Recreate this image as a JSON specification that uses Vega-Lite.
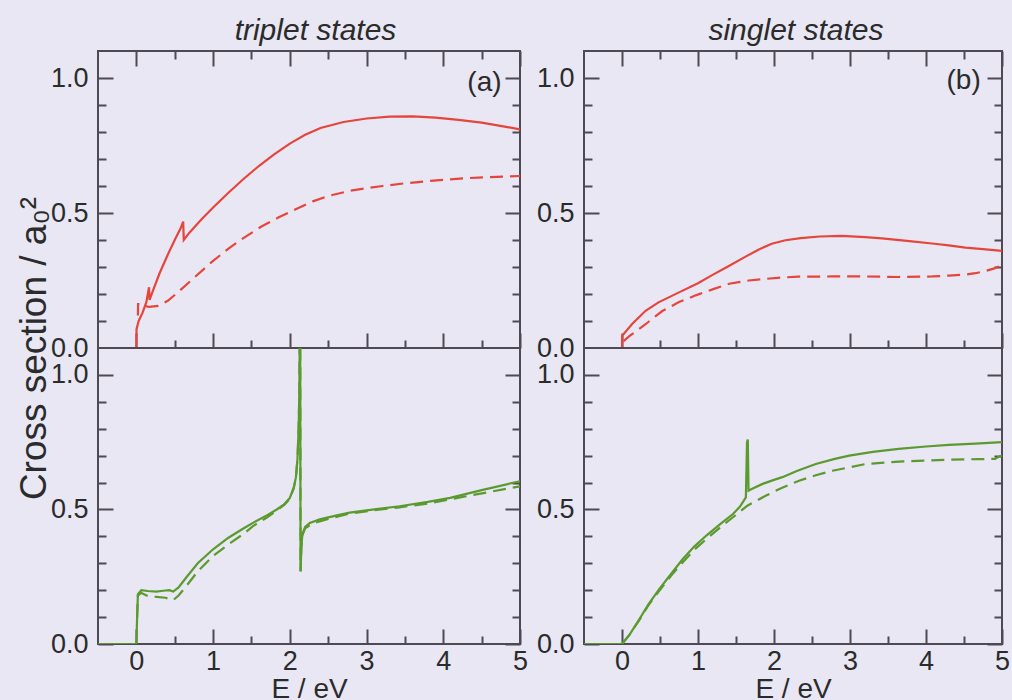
{
  "$schema": "https://vega.github.io/schema/vega-lite/v6.json",
  "background": "#e8e7f3",
  "padding": {"left": 14, "top": 16, "right": 4, "bottom": 0},
  "config": {
    "view": {"stroke": "#4e4953", "strokeWidth": 2, "fill": "#e8e7f3"},
    "font": "Liberation Sans",
    "axis": {"labelFont": "Liberation Sans", "labelFontSize": 27, "labelColor": "#2b2b2b", "titleFont": "Liberation Sans", "titleFontSize": 28, "titleFontWeight": "normal", "titleColor": "#2b2b2b", "domain": false, "grid": false, "tickColor": "#4e4953", "tickWidth": 2, "labelFlush": false, "labelOverlap": false},
    "title": {"font": "Liberation Sans", "fontSize": 30, "fontStyle": "italic", "fontWeight": "normal", "color": "#2b2b2b", "offset": 3, "anchor": "middle"}
  },
  "datasets": {
    "tl": [
      {"E":-0.5,"sigma":0,"calc":"A"},{"E":0,"sigma":0,"calc":"A"},{"E":0.002,"sigma":0.07,"calc":"A"},{"E":0.03,"sigma":0.1,"calc":"A"},{"E":0.08,"sigma":0.13,"calc":"A"},{"E":0.13,"sigma":0.17,"calc":"A"},{"E":0.165,"sigma":0.225,"calc":"A"},{"E":0.172,"sigma":0.178,"calc":"A"},{"E":0.22,"sigma":0.215,"calc":"A"},{"E":0.3,"sigma":0.275,"calc":"A"},{"E":0.4,"sigma":0.34,"calc":"A"},{"E":0.5,"sigma":0.4,"calc":"A"},{"E":0.58,"sigma":0.445,"calc":"A"},{"E":0.61,"sigma":0.468,"calc":"A"},{"E":0.618,"sigma":0.4,"calc":"A"},{"E":0.7,"sigma":0.43,"calc":"A"},{"E":0.85,"sigma":0.477,"calc":"A"},{"E":1.0,"sigma":0.52,"calc":"A"},{"E":1.2,"sigma":0.575,"calc":"A"},{"E":1.4,"sigma":0.627,"calc":"A"},{"E":1.6,"sigma":0.675,"calc":"A"},{"E":1.8,"sigma":0.718,"calc":"A"},{"E":2.0,"sigma":0.757,"calc":"A"},{"E":2.2,"sigma":0.79,"calc":"A"},{"E":2.4,"sigma":0.815,"calc":"A"},{"E":2.7,"sigma":0.837,"calc":"A"},{"E":3.0,"sigma":0.85,"calc":"A"},{"E":3.3,"sigma":0.857,"calc":"A"},{"E":3.6,"sigma":0.858,"calc":"A"},{"E":3.9,"sigma":0.853,"calc":"A"},{"E":4.2,"sigma":0.845,"calc":"A"},{"E":4.5,"sigma":0.835,"calc":"A"},{"E":4.8,"sigma":0.82,"calc":"A"},{"E":5.0,"sigma":0.81,"calc":"A"},
      {"E":0.02,"sigma":0.12,"calc":"B"},{"E":0.022,"sigma":0.163,"calc":"B"},{"E":0.09,"sigma":0.163,"calc":"B"},{"E":0.12,"sigma":0.155,"calc":"B"},{"E":0.17,"sigma":0.152,"calc":"B"},{"E":0.28,"sigma":0.156,"calc":"B"},{"E":0.41,"sigma":0.175,"calc":"B"},{"E":0.54,"sigma":0.206,"calc":"B"},{"E":0.76,"sigma":0.262,"calc":"B"},{"E":0.98,"sigma":0.318,"calc":"B"},{"E":1.2,"sigma":0.368,"calc":"B"},{"E":1.41,"sigma":0.41,"calc":"B"},{"E":1.63,"sigma":0.45,"calc":"B"},{"E":1.85,"sigma":0.483,"calc":"B"},{"E":2.07,"sigma":0.513,"calc":"B"},{"E":2.3,"sigma":0.543,"calc":"B"},{"E":2.5,"sigma":0.563,"calc":"B"},{"E":2.78,"sigma":0.582,"calc":"B"},{"E":3.0,"sigma":0.592,"calc":"B"},{"E":3.21,"sigma":0.6,"calc":"B"},{"E":3.5,"sigma":0.61,"calc":"B"},{"E":3.87,"sigma":0.62,"calc":"B"},{"E":4.3,"sigma":0.629,"calc":"B"},{"E":4.7,"sigma":0.634,"calc":"B"},{"E":5.0,"sigma":0.637,"calc":"B"}
    ],
    "tr": [
      {"E":-0.5,"sigma":0,"calc":"A"},{"E":0,"sigma":0,"calc":"A"},{"E":0.002,"sigma":0.045,"calc":"A"},{"E":0.13,"sigma":0.088,"calc":"A"},{"E":0.31,"sigma":0.138,"calc":"A"},{"E":0.48,"sigma":0.169,"calc":"A"},{"E":0.75,"sigma":0.206,"calc":"A"},{"E":1.0,"sigma":0.24,"calc":"A"},{"E":1.18,"sigma":0.269,"calc":"A"},{"E":1.4,"sigma":0.303,"calc":"A"},{"E":1.62,"sigma":0.3375,"calc":"A"},{"E":1.8,"sigma":0.365,"calc":"A"},{"E":1.97,"sigma":0.386,"calc":"A"},{"E":2.15,"sigma":0.399,"calc":"A"},{"E":2.35,"sigma":0.407,"calc":"A"},{"E":2.6,"sigma":0.413,"calc":"A"},{"E":2.89,"sigma":0.415,"calc":"A"},{"E":3.2,"sigma":0.411,"calc":"A"},{"E":3.42,"sigma":0.406,"calc":"A"},{"E":3.75,"sigma":0.397,"calc":"A"},{"E":4.08,"sigma":0.387,"calc":"A"},{"E":4.3,"sigma":0.38,"calc":"A"},{"E":4.52,"sigma":0.372,"calc":"A"},{"E":4.75,"sigma":0.366,"calc":"A"},{"E":5.0,"sigma":0.36,"calc":"A"},
      {"E":0.02,"sigma":0.025,"calc":"B"},{"E":0.1,"sigma":0.045,"calc":"B"},{"E":0.2,"sigma":0.065,"calc":"B"},{"E":0.31,"sigma":0.088,"calc":"B"},{"E":0.42,"sigma":0.113,"calc":"B"},{"E":0.53,"sigma":0.137,"calc":"B"},{"E":0.75,"sigma":0.17,"calc":"B"},{"E":0.97,"sigma":0.195,"calc":"B"},{"E":1.2,"sigma":0.218,"calc":"B"},{"E":1.41,"sigma":0.238,"calc":"B"},{"E":1.67,"sigma":0.25,"calc":"B"},{"E":1.89,"sigma":0.256,"calc":"B"},{"E":2.1,"sigma":0.261,"calc":"B"},{"E":2.32,"sigma":0.264,"calc":"B"},{"E":2.76,"sigma":0.265,"calc":"B"},{"E":3.2,"sigma":0.265,"calc":"B"},{"E":3.64,"sigma":0.263,"calc":"B"},{"E":4.08,"sigma":0.265,"calc":"B"},{"E":4.3,"sigma":0.268,"calc":"B"},{"E":4.52,"sigma":0.272,"calc":"B"},{"E":4.65,"sigma":0.277,"calc":"B"},{"E":4.78,"sigma":0.285,"calc":"B"},{"E":4.9,"sigma":0.295,"calc":"B"},{"E":5.0,"sigma":0.306,"calc":"B"}
    ],
    "bl": [
      {"E":-0.5,"sigma":0,"calc":"A"},{"E":0,"sigma":0,"calc":"A"},{"E":0.01,"sigma":0.1,"calc":"A"},{"E":0.02,"sigma":0.185,"calc":"A"},{"E":0.065,"sigma":0.2,"calc":"A"},{"E":0.15,"sigma":0.197,"calc":"A"},{"E":0.26,"sigma":0.195,"calc":"A"},{"E":0.35,"sigma":0.198,"calc":"A"},{"E":0.43,"sigma":0.2,"calc":"A"},{"E":0.48,"sigma":0.195,"calc":"A"},{"E":0.55,"sigma":0.21,"calc":"A"},{"E":0.65,"sigma":0.247,"calc":"A"},{"E":0.8,"sigma":0.3,"calc":"A"},{"E":1.0,"sigma":0.352,"calc":"A"},{"E":1.2,"sigma":0.395,"calc":"A"},{"E":1.4,"sigma":0.43,"calc":"A"},{"E":1.52,"sigma":0.45,"calc":"A"},{"E":1.7,"sigma":0.478,"calc":"A"},{"E":1.83,"sigma":0.5,"calc":"A"},{"E":1.93,"sigma":0.52,"calc":"A"},{"E":2.0,"sigma":0.543,"calc":"A"},{"E":2.05,"sigma":0.58,"calc":"A"},{"E":2.08,"sigma":0.62,"calc":"A"},{"E":2.1,"sigma":0.69,"calc":"A"},{"E":2.115,"sigma":0.8,"calc":"A"},{"E":2.125,"sigma":0.95,"calc":"A"},{"E":2.13,"sigma":1.2,"calc":"A"},{"E":2.135,"sigma":1.2,"calc":"A"},{"E":2.14,"sigma":0.27,"calc":"A"},{"E":2.15,"sigma":0.36,"calc":"A"},{"E":2.165,"sigma":0.41,"calc":"A"},{"E":2.2,"sigma":0.435,"calc":"A"},{"E":2.26,"sigma":0.45,"calc":"A"},{"E":2.39,"sigma":0.463,"calc":"A"},{"E":2.6,"sigma":0.477,"calc":"A"},{"E":2.78,"sigma":0.488,"calc":"A"},{"E":3.1,"sigma":0.5,"calc":"A"},{"E":3.43,"sigma":0.512,"calc":"A"},{"E":3.8,"sigma":0.528,"calc":"A"},{"E":4.09,"sigma":0.543,"calc":"A"},{"E":4.5,"sigma":0.572,"calc":"A"},{"E":5.0,"sigma":0.605,"calc":"A"},
      {"E":0.01,"sigma":0.1,"calc":"B"},{"E":0.02,"sigma":0.18,"calc":"B"},{"E":0.06,"sigma":0.19,"calc":"B"},{"E":0.15,"sigma":0.178,"calc":"B"},{"E":0.26,"sigma":0.175,"calc":"B"},{"E":0.38,"sigma":0.172,"calc":"B"},{"E":0.48,"sigma":0.163,"calc":"B"},{"E":0.55,"sigma":0.18,"calc":"B"},{"E":0.65,"sigma":0.215,"calc":"B"},{"E":0.8,"sigma":0.27,"calc":"B"},{"E":1.0,"sigma":0.327,"calc":"B"},{"E":1.2,"sigma":0.37,"calc":"B"},{"E":1.4,"sigma":0.41,"calc":"B"},{"E":1.52,"sigma":0.438,"calc":"B"},{"E":1.7,"sigma":0.47,"calc":"B"},{"E":1.85,"sigma":0.5,"calc":"B"},{"E":1.93,"sigma":0.518,"calc":"B"},{"E":2.0,"sigma":0.54,"calc":"B"},{"E":2.05,"sigma":0.578,"calc":"B"},{"E":2.08,"sigma":0.618,"calc":"B"},{"E":2.1,"sigma":0.688,"calc":"B"},{"E":2.115,"sigma":0.8,"calc":"B"},{"E":2.125,"sigma":0.95,"calc":"B"},{"E":2.13,"sigma":1.2,"calc":"B"},{"E":2.135,"sigma":1.2,"calc":"B"},{"E":2.14,"sigma":0.27,"calc":"B"},{"E":2.15,"sigma":0.36,"calc":"B"},{"E":2.165,"sigma":0.405,"calc":"B"},{"E":2.2,"sigma":0.43,"calc":"B"},{"E":2.3,"sigma":0.448,"calc":"B"},{"E":2.5,"sigma":0.465,"calc":"B"},{"E":2.78,"sigma":0.485,"calc":"B"},{"E":3.1,"sigma":0.497,"calc":"B"},{"E":3.43,"sigma":0.508,"calc":"B"},{"E":3.8,"sigma":0.522,"calc":"B"},{"E":4.3,"sigma":0.549,"calc":"B"},{"E":4.6,"sigma":0.565,"calc":"B"},{"E":5.0,"sigma":0.586,"calc":"B"}
    ],
    "br": [
      {"E":-0.5,"sigma":0,"calc":"A"},{"E":0,"sigma":0,"calc":"A"},{"E":0.1,"sigma":0.035,"calc":"A"},{"E":0.23,"sigma":0.093,"calc":"A"},{"E":0.35,"sigma":0.148,"calc":"A"},{"E":0.49,"sigma":0.204,"calc":"A"},{"E":0.65,"sigma":0.262,"calc":"A"},{"E":0.8,"sigma":0.316,"calc":"A"},{"E":0.95,"sigma":0.362,"calc":"A"},{"E":1.11,"sigma":0.403,"calc":"A"},{"E":1.3,"sigma":0.447,"calc":"A"},{"E":1.46,"sigma":0.483,"calc":"A"},{"E":1.55,"sigma":0.51,"calc":"A"},{"E":1.63,"sigma":0.545,"calc":"A"},{"E":1.645,"sigma":0.75,"calc":"A"},{"E":1.655,"sigma":0.76,"calc":"A"},{"E":1.665,"sigma":0.57,"calc":"A"},{"E":1.7,"sigma":0.575,"calc":"A"},{"E":1.85,"sigma":0.595,"calc":"A"},{"E":2.0,"sigma":0.61,"calc":"A"},{"E":2.11,"sigma":0.62,"calc":"A"},{"E":2.3,"sigma":0.643,"calc":"A"},{"E":2.55,"sigma":0.669,"calc":"A"},{"E":2.8,"sigma":0.688,"calc":"A"},{"E":2.99,"sigma":0.7,"calc":"A"},{"E":3.3,"sigma":0.714,"calc":"A"},{"E":3.64,"sigma":0.725,"calc":"A"},{"E":4.0,"sigma":0.734,"calc":"A"},{"E":4.3,"sigma":0.74,"calc":"A"},{"E":4.65,"sigma":0.745,"calc":"A"},{"E":5.0,"sigma":0.75,"calc":"A"},
      {"E":0,"sigma":0,"calc":"B"},{"E":0.1,"sigma":0.035,"calc":"B"},{"E":0.23,"sigma":0.09,"calc":"B"},{"E":0.35,"sigma":0.145,"calc":"B"},{"E":0.49,"sigma":0.198,"calc":"B"},{"E":0.65,"sigma":0.255,"calc":"B"},{"E":0.8,"sigma":0.304,"calc":"B"},{"E":0.95,"sigma":0.35,"calc":"B"},{"E":1.11,"sigma":0.39,"calc":"B"},{"E":1.3,"sigma":0.435,"calc":"B"},{"E":1.46,"sigma":0.471,"calc":"B"},{"E":1.65,"sigma":0.514,"calc":"B"},{"E":1.89,"sigma":0.551,"calc":"B"},{"E":2.1,"sigma":0.58,"calc":"B"},{"E":2.33,"sigma":0.607,"calc":"B"},{"E":2.55,"sigma":0.627,"calc":"B"},{"E":2.77,"sigma":0.644,"calc":"B"},{"E":3.0,"sigma":0.657,"calc":"B"},{"E":3.21,"sigma":0.669,"calc":"B"},{"E":3.64,"sigma":0.678,"calc":"B"},{"E":4.0,"sigma":0.682,"calc":"B"},{"E":4.3,"sigma":0.685,"calc":"B"},{"E":4.7,"sigma":0.687,"calc":"B"},{"E":4.91,"sigma":0.688,"calc":"B"},{"E":4.95,"sigma":0.695,"calc":"B"},{"E":5.0,"sigma":0.7,"calc":"B"}
    ],
    "labels_a": [{"E": 4.76, "sigma": 0.98, "label": "(a)"}],
    "labels_b": [{"E": 4.72, "sigma": 0.99, "label": "(b)"}]
  },
  "spacing": 6,
  "hconcat": [
    {
      "title": {"text": "triplet states", "dx": 44},
      "bounds": "flush",
      "spacing": 0,
      "vconcat": [
        {
          "width": 422, "height": 297,
          "data": {"name": "tl"},
          "layer": [
            {
              "transform": [{"filter": "datum.calc === 'A'"}],
              "mark": {"type": "line", "color": "#e6453c", "strokeWidth": 2.2, "clip": true},
              "encoding": {
                "x": {"field": "E", "type": "quantitative", "scale": {"domain": [-0.5, 5], "nice": false, "zero": false},
                  "axis": {"orient": "bottom", "values": [0,0.5,1,1.5,2,2.5,3,3.5,4,4.5,5], "labels": false, "title": null, "tickSize": {"condition": {"test": "datum.value % 1 == 0", "value": -15}, "value": -8}}},
                "y": {"field": "sigma", "type": "quantitative", "scale": {"domain": [0, 1.1], "nice": false, "zero": false},
                  "axis": {"orient": "left", "values": [0,0.1,0.2,0.3,0.4,0.5,0.6,0.7,0.8,0.9,1.0], "format": ".1f", "labelExpr": "abs(datum.value*2-round(datum.value*2))<0.001 ? datum.label : ''", "labelPadding": 25, "tickSize": {"condition": {"test": "abs(datum.value*2-round(datum.value*2))<0.001", "value": -15}, "value": -8}, "title": "Cross section / a₀²", "titleFontSize": 37, "titleY": 297, "titlePadding": -3}}
              }
            },
            {
              "transform": [{"filter": "datum.calc === 'B'"}],
              "mark": {"type": "line", "color": "#e6453c", "strokeWidth": 2.2, "strokeDash": [13, 7], "clip": true},
              "encoding": {
                "x": {"field": "E", "type": "quantitative", "scale": {"domain": [-0.5, 5], "nice": false, "zero": false},
                  "axis": {"orient": "top", "values": [0,0.5,1,1.5,2,2.5,3,3.5,4,4.5,5], "labels": false, "title": null, "tickSize": {"condition": {"test": "datum.value % 1 == 0", "value": -15}, "value": -8}}},
                "y": {"field": "sigma", "type": "quantitative", "scale": {"domain": [0, 1.1], "nice": false, "zero": false},
                  "axis": {"orient": "right", "values": [0,0.1,0.2,0.3,0.4,0.5,0.6,0.7,0.8,0.9,1.0], "labels": false, "title": null, "tickSize": {"condition": {"test": "abs(datum.value*2-round(datum.value*2))<0.001", "value": -15}, "value": -8}}}
              }
            },
            {
              "data": {"name": "labels_a"},
              "mark": {"type": "text", "align": "right", "baseline": "middle", "fontSize": 28, "font": "Liberation Sans", "color": "#2b2b2b"},
              "encoding": {
                "x": {"field": "E", "type": "quantitative", "axis": null},
                "y": {"field": "sigma", "type": "quantitative", "axis": null},
                "text": {"field": "label"}
              }
            }
          ],
          "resolve": {"axis": {"x": "independent", "y": "independent"}}
        },
        {
          "width": 422, "height": 296,
          "data": {"name": "bl"},
          "layer": [
            {
              "transform": [{"filter": "datum.calc === 'A'"}],
              "mark": {"type": "line", "color": "#5a9a2e", "strokeWidth": 2.2, "clip": true},
              "encoding": {
                "x": {"field": "E", "type": "quantitative", "scale": {"domain": [-0.5, 5], "nice": false, "zero": false},
                  "axis": {"orient": "bottom", "values": [0,0.5,1,1.5,2,2.5,3,3.5,4,4.5,5], "format": ".0f", "labelExpr": "datum.value % 1 == 0 ? datum.label : ''", "labelPadding": 19, "title": "E / eV", "titlePadding": -6, "tickSize": {"condition": {"test": "datum.value % 1 == 0", "value": -15}, "value": -8}}},
                "y": {"field": "sigma", "type": "quantitative", "scale": {"domain": [0, 1.1], "nice": false, "zero": false},
                  "axis": {"orient": "left", "values": [0,0.1,0.2,0.3,0.4,0.5,0.6,0.7,0.8,0.9,1.0], "format": ".1f", "labelExpr": "abs(datum.value*2-round(datum.value*2))<0.001 ? datum.label : ''", "labelPadding": 25, "tickSize": {"condition": {"test": "abs(datum.value*2-round(datum.value*2))<0.001", "value": -15}, "value": -8}, "title": null}}
              }
            },
            {
              "transform": [{"filter": "datum.calc === 'B'"}],
              "mark": {"type": "line", "color": "#5a9a2e", "strokeWidth": 2.2, "strokeDash": [13, 7], "clip": true},
              "encoding": {
                "x": {"field": "E", "type": "quantitative", "scale": {"domain": [-0.5, 5], "nice": false, "zero": false}, "axis": null},
                "y": {"field": "sigma", "type": "quantitative", "scale": {"domain": [0, 1.1], "nice": false, "zero": false},
                  "axis": {"orient": "right", "values": [0,0.1,0.2,0.3,0.4,0.5,0.6,0.7,0.8,0.9,1.0], "labels": false, "title": null, "tickSize": {"condition": {"test": "abs(datum.value*2-round(datum.value*2))<0.001", "value": -15}, "value": -8}}}
              }
            }
          ],
          "resolve": {"axis": {"x": "independent", "y": "independent"}}
        }
      ]
    },
    {
      "title": {"text": "singlet states", "dx": 23},
      "bounds": "flush",
      "spacing": 0,
      "vconcat": [
        {
          "width": 418, "height": 297,
          "data": {"name": "tr"},
          "layer": [
            {
              "transform": [{"filter": "datum.calc === 'A'"}],
              "mark": {"type": "line", "color": "#e6453c", "strokeWidth": 2.2, "clip": true},
              "encoding": {
                "x": {"field": "E", "type": "quantitative", "scale": {"domain": [-0.5, 5], "nice": false, "zero": false},
                  "axis": {"orient": "bottom", "values": [0,0.5,1,1.5,2,2.5,3,3.5,4,4.5,5], "labels": false, "title": null, "tickSize": {"condition": {"test": "datum.value % 1 == 0", "value": -15}, "value": -8}}},
                "y": {"field": "sigma", "type": "quantitative", "scale": {"domain": [0, 1.1], "nice": false, "zero": false},
                  "axis": {"orient": "left", "values": [0,0.1,0.2,0.3,0.4,0.5,0.6,0.7,0.8,0.9,1.0], "format": ".1f", "labelExpr": "abs(datum.value*2-round(datum.value*2))<0.001 ? datum.label : ''", "labelPadding": 25, "tickSize": {"condition": {"test": "abs(datum.value*2-round(datum.value*2))<0.001", "value": -15}, "value": -8}, "title": null}}
              }
            },
            {
              "transform": [{"filter": "datum.calc === 'B'"}],
              "mark": {"type": "line", "color": "#e6453c", "strokeWidth": 2.2, "strokeDash": [13, 7], "clip": true},
              "encoding": {
                "x": {"field": "E", "type": "quantitative", "scale": {"domain": [-0.5, 5], "nice": false, "zero": false},
                  "axis": {"orient": "top", "values": [0,0.5,1,1.5,2,2.5,3,3.5,4,4.5,5], "labels": false, "title": null, "tickSize": {"condition": {"test": "datum.value % 1 == 0", "value": -15}, "value": -8}}},
                "y": {"field": "sigma", "type": "quantitative", "scale": {"domain": [0, 1.1], "nice": false, "zero": false},
                  "axis": {"orient": "right", "values": [0,0.1,0.2,0.3,0.4,0.5,0.6,0.7,0.8,0.9,1.0], "labels": false, "title": null, "tickSize": {"condition": {"test": "abs(datum.value*2-round(datum.value*2))<0.001", "value": -15}, "value": -8}}}
              }
            },
            {
              "data": {"name": "labels_b"},
              "mark": {"type": "text", "align": "right", "baseline": "middle", "fontSize": 28, "font": "Liberation Sans", "color": "#2b2b2b"},
              "encoding": {
                "x": {"field": "E", "type": "quantitative", "axis": null},
                "y": {"field": "sigma", "type": "quantitative", "axis": null},
                "text": {"field": "label"}
              }
            }
          ],
          "resolve": {"axis": {"x": "independent", "y": "independent"}}
        },
        {
          "width": 418, "height": 296,
          "data": {"name": "br"},
          "layer": [
            {
              "transform": [{"filter": "datum.calc === 'A'"}],
              "mark": {"type": "line", "color": "#5a9a2e", "strokeWidth": 2.2, "clip": true},
              "encoding": {
                "x": {"field": "E", "type": "quantitative", "scale": {"domain": [-0.5, 5], "nice": false, "zero": false},
                  "axis": {"orient": "bottom", "values": [0,0.5,1,1.5,2,2.5,3,3.5,4,4.5,5], "format": ".0f", "labelExpr": "datum.value % 1 == 0 ? datum.label : ''", "labelPadding": 19, "title": "E / eV", "titlePadding": -6, "tickSize": {"condition": {"test": "datum.value % 1 == 0", "value": -15}, "value": -8}}},
                "y": {"field": "sigma", "type": "quantitative", "scale": {"domain": [0, 1.1], "nice": false, "zero": false},
                  "axis": {"orient": "left", "values": [0,0.1,0.2,0.3,0.4,0.5,0.6,0.7,0.8,0.9,1.0], "format": ".1f", "labelExpr": "abs(datum.value*2-round(datum.value*2))<0.001 ? datum.label : ''", "labelPadding": 25, "tickSize": {"condition": {"test": "abs(datum.value*2-round(datum.value*2))<0.001", "value": -15}, "value": -8}, "title": null}}
              }
            },
            {
              "transform": [{"filter": "datum.calc === 'B'"}],
              "mark": {"type": "line", "color": "#5a9a2e", "strokeWidth": 2.2, "strokeDash": [13, 7], "clip": true},
              "encoding": {
                "x": {"field": "E", "type": "quantitative", "scale": {"domain": [-0.5, 5], "nice": false, "zero": false}, "axis": null},
                "y": {"field": "sigma", "type": "quantitative", "scale": {"domain": [0, 1.1], "nice": false, "zero": false},
                  "axis": {"orient": "right", "values": [0,0.1,0.2,0.3,0.4,0.5,0.6,0.7,0.8,0.9,1.0], "labels": false, "title": null, "tickSize": {"condition": {"test": "abs(datum.value*2-round(datum.value*2))<0.001", "value": -15}, "value": -8}}}
              }
            }
          ],
          "resolve": {"axis": {"x": "independent", "y": "independent"}}
        }
      ]
    }
  ]
}
